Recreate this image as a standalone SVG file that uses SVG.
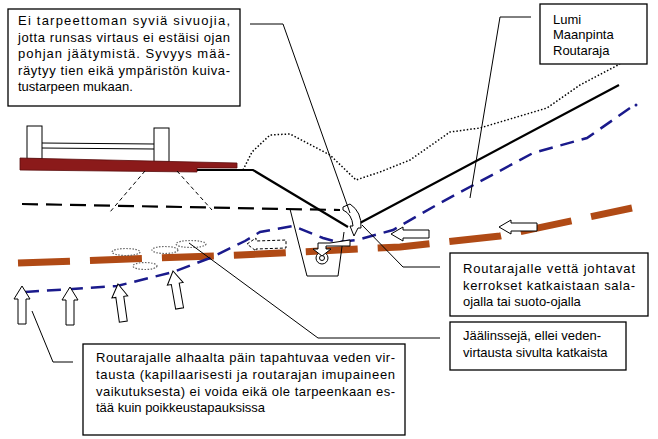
<svg xmlns="http://www.w3.org/2000/svg" width="658" height="439" viewBox="0 0 658 439">
<style>
text{font-family:"Liberation Sans",Arial,sans-serif;font-size:13px;fill:#000}
.box{fill:#fff;stroke:#000;stroke-width:1.3}
.lead{fill:none;stroke:#000;stroke-width:1}
.hol{fill:#fff;stroke:#000;stroke-width:1}
.ice{fill:none;stroke:#666;stroke-width:1.2;stroke-dasharray:1.5 1.5}
</style>
<defs>
<path id="up" d="M0,0 L8,13 L4,13 L4,38 L-4,38 L-4,13 L-8,13 Z"/>
<path id="left" d="M0,0 L12,-7 L12,-4 L38,-4 L38,4 L12,4 L12,7 Z"/>
</defs>
<rect width="658" height="439" fill="#fff"/>
<g id="terrain">
<rect x="27" y="126" width="15" height="33" class="hol"/>
<rect x="154" y="128" width="15" height="34" class="hol"/>
<line x1="42" y1="143" x2="154" y2="144" stroke="#000" stroke-width="1"/>
<line x1="42" y1="148" x2="154" y2="149" stroke="#000" stroke-width="1"/>
<path d="M20,158 L237,163 L237,168 L197,168 L197,172 L20,170 Z" fill="#8b1a1a" stroke="#5a0d0d" stroke-width="0.8"/>
<path d="M145,171 L110,212 M177,171 L212,210" fill="none" stroke="#000" stroke-width="1" stroke-dasharray="4 3"/>
<path d="M22,204 L340,210" fill="none" stroke="#000" stroke-width="2.2" stroke-dasharray="16 8"/>
<path d="M243,170 L252,152 L270,135 L290,134 L330,155 L356,180 L380,172 L410,160 L450,132 L480,128 L547,108 L580,85 L620,64" fill="none" stroke="#000" stroke-width="1.5" stroke-dasharray="1.5 2"/>
<path d="M197,170 L253,170 L348,227 M358,224 L619,85" fill="none" stroke="#000" stroke-width="2.2"/>
<path d="M18,263 L240,255 L400,247 L500,236 L632,208" fill="none" stroke="#b04a15" stroke-width="7" stroke-dasharray="52 20"/>
<path d="M25,292 L117,286 L173,272 L210,258 L245,241 L260,232 L293,226 L323,238 L337,242 L357,240 L393,230 L440,203 L533,153 L587,138 L630,108" fill="none" stroke="#1a1a8c" stroke-width="2.5" stroke-dasharray="14 8"/>
<circle cx="636" cy="105" r="1.5" fill="#1a1a8c"/>
<path d="M290,209 L307,276 L338,276 L344,232" fill="none" stroke="#000" stroke-width="1"/>
<circle cx="322" cy="258" r="6" class="hol"/>
<circle cx="322" cy="258" r="2.5" class="hol"/>
<path d="M343,207 L350,204 Q362,212 361,228 L358,228 L354,236 L350,226 L353,226 Q352,214 343,210 Z" class="hol"/>
<path d="M330,243 L318,243 L318,249 L313,249 L322,256 L331,249 L326,249 L326,246 L350,246 L350,240 Z" class="hol"/>
<path d="M247,244 L256,238 L256,241 L286,240 L286,248 L256,249 L256,251 Z" fill="#fff" stroke="#000" stroke-width="1" stroke-dasharray="3 2"/>
<use href="#left" x="391" y="234" class="hol"/>
<use href="#left" x="499" y="227" class="hol"/>
<ellipse cx="126" cy="252" rx="14" ry="3.5" class="ice"/>
<ellipse cx="145" cy="266" rx="12" ry="3.5" class="ice"/>
<ellipse cx="165" cy="250" rx="13" ry="3.5" class="ice"/>
<ellipse cx="191" cy="244" rx="15" ry="3.5" class="ice"/>
<use href="#up" x="22" y="286" class="hol"/>
<use href="#up" x="70" y="287" class="hol"/>
<use href="#up" transform="translate(118,284) rotate(-8)" class="hol"/>
<use href="#up" transform="translate(173,271) rotate(-10)" class="hol"/>
</g>
<g id="connectors">
<path class="lead" d="M250,24 L283,24 L350,213"/>
<path class="lead" d="M531,17 L500,17 L470,198"/>
<path class="lead" d="M440,267 L403,267 L362,225"/>
<path class="lead" d="M440,338 L318,338 L189,243"/>
<path class="lead" d="M73,362 L53,362 L32,311"/>
</g>
<g id="box1">
<rect x="8" y="9" width="232" height="97" class="box"/>
<text x="18" y="25" textLength="212" lengthAdjust="spacing">Ei tarpeettoman syviä sivuojia,</text>
<text x="18" y="41.5" textLength="212" lengthAdjust="spacing">jotta runsas virtaus ei estäisi ojan</text>
<text x="18" y="58" textLength="212" lengthAdjust="spacing">pohjan jäätymistä. Syvyys mää-</text>
<text x="18" y="74.5" textLength="212" lengthAdjust="spacing">räytyy tien eikä ympäristön kuiva-</text>
<text x="18" y="91">tustarpeen mukaan.</text>
</g>
<g id="box2">
<rect x="540" y="4" width="107" height="60" class="box"/>
<text x="553" y="24">Lumi</text>
<text x="553" y="39">Maanpinta</text>
<text x="553" y="55">Routaraja</text>
</g>
<g id="box3">
<rect x="450" y="253" width="198" height="63" class="box"/>
<text x="463" y="273" textLength="172" lengthAdjust="spacing">Routarajalle vettä johtavat</text>
<text x="463" y="290" textLength="172" lengthAdjust="spacing">kerrokset katkaistaan sala-</text>
<text x="463" y="306">ojalla tai suoto-ojalla</text>
</g>
<g id="box4">
<rect x="450" y="322" width="176" height="48" class="box"/>
<text x="463" y="340">Jäälinssejä, ellei veden-</text>
<text x="463" y="357">virtausta sivulta katkaista</text>
</g>
<g id="box5">
<rect x="83" y="344" width="322" height="91" class="box"/>
<text x="96" y="362" textLength="299" lengthAdjust="spacing">Routarajalle alhaalta päin tapahtuvaa veden vir-</text>
<text x="96" y="379" textLength="299" lengthAdjust="spacing">tausta (kapillaarisesti ja routarajan imupaineen</text>
<text x="96" y="396" textLength="299" lengthAdjust="spacing">vaikutuksesta) ei voida eikä ole tarpeenkaan es-</text>
<text x="96" y="412">tää kuin poikkeustapauksissa</text>
</g>
</svg>
